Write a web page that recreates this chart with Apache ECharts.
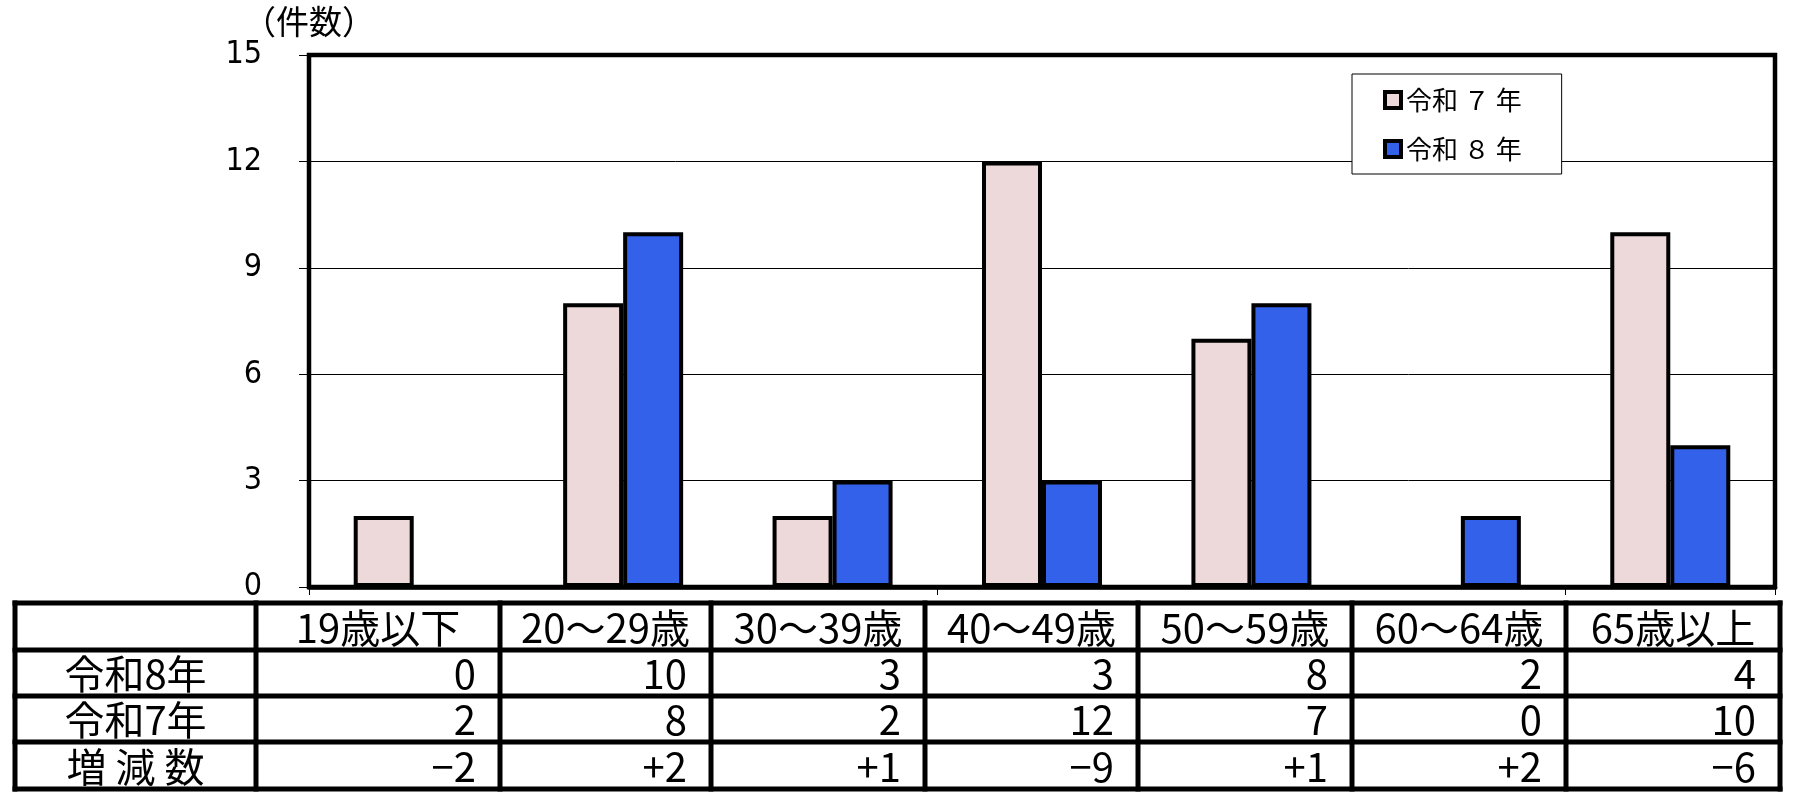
<!DOCTYPE html>
<html>
<head>
<meta charset="utf-8">
<script src="https://cdn.jsdelivr.net/npm/echarts@6/dist/echarts.min.js"></script>
<style>
html, body { margin: 0; padding: 0; background: #fff; }
#chart { width: 1801px; height: 806px; }
</style>
</head>
<body>
<div id="chart"></div>
<script>
// 年齢層別の件数
var categories = ['19歳以下', '20～29歳', '30～39歳', '40～49歳', '50～59歳', '60～64歳', '65歳以上'];
var seriesNames = ['令和７年', '令和８年'];
var r7 = [2, 8, 2, 12, 7, 0, 10];
var r8 = [0, 10, 3, 3, 8, 2, 4];
var diff = [-2, 2, 1, -9, 1, 2, -6];
var rowNames = ['令和8年', '令和7年', '増 減 数'];
var yMin = 0, yMax = 15, yStep = 3;

// 表の罫線位置 (レイアウト)
var colX = [15, 256, 500, 711, 925, 1138, 1352, 1566, 1780];
var rowY = [603, 650, 696, 742, 789];
var tableFont = '40px "Noto Sans CJK JP", sans-serif';

function signed(v) {
    if (v > 0) return '+' + v;
    if (v < 0) return '\u2212' + (-v);
    return '0';
}

function buildTable() {
    var els = [];
    var lineStyle = { stroke: '#000', lineWidth: 5, lineCap: 'square' };
    rowY.forEach(function (y) {
        els.push({ type: 'line', shape: { x1: colX[0], y1: y, x2: colX[colX.length - 1], y2: y }, style: lineStyle });
    });
    colX.forEach(function (x) {
        els.push({ type: 'line', shape: { x1: x, y1: rowY[0], x2: x, y2: rowY[rowY.length - 1] }, style: lineStyle });
    });
    function text(t, x, y, align) {
        els.push({
            type: 'text', x: x, y: y,
            style: { text: t, fill: '#000', font: tableFont, align: align, verticalAlign: 'middle' }
        });
    }
    // 見出し行
    categories.forEach(function (c, i) {
        text(c, (colX[i + 1] + colX[i + 2]) / 2, (rowY[0] + rowY[1]) / 2 + 1, 'center');
    });
    var rows = [r8.map(String), r7.map(String), diff.map(signed)];
    rows.forEach(function (vals, r) {
        var cy = (rowY[r + 1] + rowY[r + 2]) / 2 + 1;
        text(rowNames[r], (colX[0] + colX[1]) / 2, cy, 'center');
        vals.forEach(function (v, i) {
            text(v, colX[i + 2] - 24, cy, 'right');
        });
    });
    return els;
}

var myChart = echarts.init(document.getElementById('chart'));

myChart.setOption({
    backgroundColor: '#fff',
    animation: false,
    grid: {
        left: 309,
        right: 26,
        top: 55,
        bottom: 219,
        show: true,
        borderColor: '#000',
        borderWidth: 4.5
    },
    legend: {
        data: seriesNames,
        orient: 'vertical',
        left: 1352,
        top: 74,
        icon: 'rect',
        itemWidth: 16,
        itemHeight: 16,
        itemGap: 21,
        itemStyle: { borderColor: '#000', borderWidth: 4 },
        formatter: function (name) {
            return name.replace(/([０-９])/, ' $1 ');
        },
        textStyle: {
            fontSize: 26,
            fontFamily: 'Noto Sans CJK JP',
            color: '#000',
            lineHeight: 28
        },
        backgroundColor: '#fff',
        borderColor: '#000',
        borderWidth: 1,
        padding: [12, 40, 11, 31]
    },
    xAxis: {
        type: 'category',
        data: categories,
        axisLabel: { show: false },
        axisLine: { show: true, lineStyle: { color: '#000', width: 4.5 } },
        axisTick: {
            show: true,
            interval: 2,
            length: 8,
            lineStyle: { color: '#000', width: 1 }
        }
    },
    yAxis: {
        type: 'value',
        min: yMin,
        max: yMax,
        interval: yStep,
        name: '（件数）',
        nameLocation: 'end',
        nameGap: 34,
        nameTextStyle: {
            fontSize: 33,
            fontFamily: 'Noto Sans CJK JP',
            color: '#000',
            align: 'center',
            verticalAlign: 'middle'
        },
        axisLine: { show: false },
        axisTick: {
            show: true,
            length: 10,
            lineStyle: { color: '#000', width: 1 }
        },
        axisLabel: {
            margin: 47,
            fontSize: 32,
            fontFamily: '"Liberation Sans Narrow", "DejaVu Sans Condensed", sans-serif',
            color: '#000'
        },
        splitLine: { lineStyle: { color: '#000', width: 1 } }
    },
    series: [
        {
            name: seriesNames[0],
            type: 'bar',
            data: r7,
            barWidth: 60,
            barGap: '0%',
            itemStyle: { color: '#EDD9D9', borderColor: '#000', borderWidth: 4 }
        },
        {
            name: seriesNames[1],
            type: 'bar',
            data: r8,
            barWidth: 60,
            barGap: '0%',
            itemStyle: { color: '#3361E9', borderColor: '#000', borderWidth: 4 }
        }
    ],
    graphic: buildTable()
});
</script>
</body>
</html>
